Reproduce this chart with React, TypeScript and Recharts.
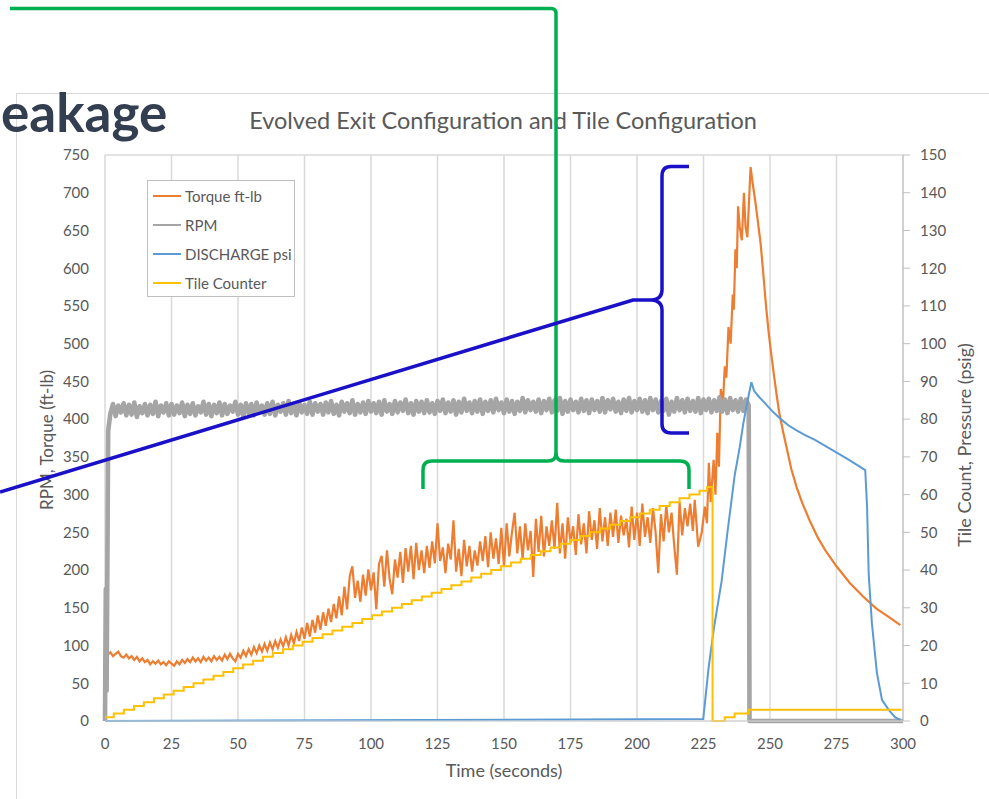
import React from 'react';
import { LineChart, Line, XAxis, YAxis, CartesianGrid, Legend } from 'recharts';

const FONT = 'Lato, "Open Sans", sans-serif';
const TEXT = '#595959';
const GRID = '#d9d9d9';

// axis ticks
const timeTicks = [0, 25, 50, 75, 100, 125, 150, 175, 200, 225, 250, 275, 300];
const leftTicks = [0, 50, 100, 150, 200, 250, 300, 350, 400, 450, 500, 550, 600, 650, 700, 750];
const rightTicks = [0, 10, 20, 30, 40, 50, 60, 70, 80, 90, 100, 110, 120, 130, 140, 150];

const seriesNames = ['Torque ft-lb', 'RPM', 'DISCHARGE psi', 'Tile Counter'];
const seriesColors = ['#ED7D31', '#A5A5A5', '#5B9BD5', '#FFC000'];

// torque, one sample per second from t = 0 to 219
const torqueEarly = [
  65, 88, 91, 86, 89, 92, 86, 84, 88, 83,
  86, 81, 85, 79, 83, 78, 81, 75, 79, 76,
  80, 75, 78, 74, 79, 76, 73, 79, 75, 81,
  77, 82, 78, 84, 79, 83, 78, 85, 80, 84,
  79, 86, 81, 85, 80, 88, 82, 89, 83, 79,
  89, 84, 93, 86, 95, 88, 98, 90, 100, 92,
  102, 93, 104, 95, 106, 97, 108, 99, 111, 100,
  114, 103, 118, 106, 124, 109, 130, 112, 134, 117,
  140, 121, 144, 126, 149, 131, 155, 136, 165, 140,
  178, 148, 192, 205, 163, 186, 158, 194, 166, 201,
  173, 197, 148, 208, 219, 178, 226, 188, 168, 214,
  190, 224, 183, 229, 198, 232, 188, 236, 200, 226,
  196, 232, 203, 238, 209, 262, 212, 230, 196, 235,
  214, 266, 198, 228, 192, 240, 205, 232, 198, 226,
  206, 238, 212, 245, 204, 250, 215, 242, 208, 256,
  204, 262, 218, 250, 276, 222, 258, 214, 262, 226,
  252, 191, 268, 224, 272, 218, 258, 232, 266, 228,
  289, 222, 262, 215, 270, 236, 258, 220, 274, 234,
  262, 222, 278, 240, 266, 228, 282, 238, 270, 232,
  276, 244, 280, 236, 272, 246, 268, 230, 284, 240,
  276, 232, 288, 244, 270, 236, 282, 250, 196, 274,
  238, 286, 250, 276, 232, 194, 290, 246, 282, 258,
];

// torque surge, peak and decay [time s, ft-lb]
const torqueLate: [number, number][] = [
  [220, 288], [221, 252], [221.7, 293], [223, 231], [224.3, 249], [225.5, 284],
  [226.3, 262], [227, 342], [227.7, 290], [228.8, 346], [229.5, 300], [230.2, 382],
  [230.8, 337], [231.5, 440], [232.3, 420], [233, 470], [233.6, 455], [234.4, 522],
  [235.2, 500], [236, 565], [236.4, 545], [237, 625], [237.5, 600], [238, 682],
  [238.6, 655], [239.4, 637], [240.2, 700], [240.8, 655], [241.5, 641], [242.7, 734],
  [243.5, 712], [244.5, 688], [245.5, 660], [246.5, 632], [247.5, 592], [248.5, 550],
  [249.5, 515], [250.5, 485], [251.5, 458], [252.5, 432], [253.5, 408], [255, 382],
  [256.5, 358], [258, 334], [260, 310], [262, 290], [265, 265], [268, 243],
  [271, 225], [275, 205], [280, 183], [285, 165], [290, 149], [295, 137], [299, 127],
];

// RPM spin-up [time s, rpm]
const rpmStart: [number, number][] = [[0, 0], [0.3, 175], [0.6, 40], [1.2, 385]];
// RPM, one sample per second from t = 2 to 241
const rpmBand = [
  407, 420, 404, 418, 409, 421, 405, 419, 406, 422, 403, 417, 408, 420, 405, 419, 407, 423, 404, 418,
  409, 421, 405, 420, 406, 418, 408, 422, 404, 419, 407, 421, 405, 417, 409, 423, 406, 420, 404, 419,
  408, 422, 405, 420, 407, 418, 410, 423, 406, 419, 404, 421, 408, 420, 405, 422, 409, 418, 406, 421,
  407, 423, 405, 419, 410, 421, 406, 424, 408, 420, 405, 422, 409, 419, 407, 423, 406, 421, 410, 420,
  406, 422, 409, 424, 407, 419, 405, 423, 410, 421, 408, 425, 406, 420, 409, 422, 407, 424, 410, 421,
  408, 423, 406, 425, 410, 420, 407, 424, 409, 422, 411, 426, 408, 421, 406, 424, 410, 423, 408, 425,
  409, 421, 407, 424, 411, 426, 408, 422, 410, 425, 406, 423, 409, 427, 411, 422, 408, 424, 410, 426,
  407, 423, 411, 425, 409, 427, 412, 422, 408, 426, 410, 424, 407, 423, 411, 428, 409, 425, 412, 423,
  410, 426, 408, 424, 412, 427, 409, 425, 411, 428, 407, 424, 410, 426, 412, 423, 409, 427, 411, 425,
  408, 426, 412, 424, 410, 428, 409, 425, 413, 427, 410, 423, 408, 426, 411, 428, 409, 424, 412, 427,
  410, 425, 408, 428, 412, 426, 409, 424, 411, 427, 406, 423, 410, 428, 412, 425, 409, 427, 411, 424,
  410, 428, 408, 426, 412, 427, 409, 425, 411, 429, 410, 426, 408, 428, 412, 425, 410, 427, 411, 426,
];
const rpmEnd: [number, number][] = [[242, 418], [242.3, 0], [300, 0]];

// discharge pressure [time s, psi]
const discharge: [number, number][] = [
  [0, 0], [224.9, 0.5], [226.9, 14], [229, 25], [231.8, 37], [234, 50], [236.7, 65],
  [238.6, 72.5], [240, 79], [241.9, 86], [243, 89.8], [244, 87.5], [246, 85.8], [248, 84.3],
  [251, 82], [254.4, 79.8], [257, 78.3], [260, 77], [263, 75.8], [266.9, 74.5], [273, 72],
  [279.7, 69.2], [285.8, 66.5], [286.5, 56.7], [287.1, 39], [288.3, 26], [290.2, 12.7],
  [292.1, 5.6], [294.7, 2.9], [297, 1], [299, 0.3],
];

// time at which the tile counter reaches 1, 2, 3 ... 62
const tileStepTimes = [
  0, 3.3, 7.1, 10.9, 14.6, 18.4, 22.1, 25.8, 29.6, 33.3,
  37.0, 40.8, 44.5, 48.2, 51.9, 55.7, 59.4, 63.1, 66.9, 70.6,
  74.3, 78.0, 81.8, 85.5, 89.2, 93.0, 96.7, 100.4, 104.1, 107.9,
  111.6, 115.3, 119.1, 122.8, 126.5, 130.2, 134.0, 137.7, 141.4, 145.2,
  148.9, 152.6, 156.3, 160.1, 163.8, 167.5, 171.3, 175.0, 178.7, 182.4,
  186.2, 189.9, 193.6, 197.4, 201.1, 204.8, 208.5, 212.3, 216.0, 219.7,
  223.5, 226.4,
];
// counter reset and restart [time s, count]
const tileReset: [number, number][] = [[228.4, 0], [233, 1], [236.7, 2], [242, 3], [299.5, 3]];

const torqueData = [
  ...torqueEarly.map((v, i) => ({ t: i, v })),
  ...torqueLate.map(([t, v]) => ({ t, v })),
];
const rpmData = [
  ...rpmStart.map(([t, v]) => ({ t, v })),
  ...rpmBand.map((v, i) => ({ t: i + 2, v })),
  ...rpmEnd.map(([t, v]) => ({ t, v })),
];
const dischargeData = discharge.map(([t, v]) => ({ t, v }));
const tileData = [
  ...tileStepTimes.map((t, i) => ({ t, v: i + 1 })),
  ...tileReset.map(([t, v]) => ({ t, v })),
];

const LegendBox = () => (
  <div
    style={{
      width: 148,
      height: 117,
      boxSizing: 'border-box',
      border: '1px solid #bfbfbf',
      background: '#fff',
      paddingLeft: 5,
      fontFamily: FONT,
      fontSize: 15,
      color: TEXT,
    }}
  >
    {seriesNames.map((name, i) => (
      <div key={name} style={{ display: 'flex', alignItems: 'center', height: 29 }}>
        <svg width={30} height={4}>
          <line x1={0} y1={2} x2={28} y2={2} stroke={seriesColors[i]} strokeWidth={2} />
        </svg>
        <span style={{ marginLeft: 2 }}>{name}</span>
      </div>
    ))}
  </div>
);

const tickStyle = { fill: TEXT, fontSize: 15, fontFamily: FONT };

export default function App() {
  return (
    <div style={{ position: 'absolute', left: 0, top: 0, width: 989, height: 799, background: '#fff', overflow: 'hidden' }}>
      <svg width={989} height={799} style={{ position: 'absolute', left: 0, top: 0 }}>
        <rect x={16.5} y={93.5} width={1000} height={1000} fill="#fff" stroke={GRID} />
      </svg>
      <div style={{ position: 'absolute', left: 0, top: 0 }}>
        <LineChart width={989} height={799} margin={{ top: 155, right: 26, bottom: 48, left: 45 }}>
          <CartesianGrid stroke={GRID} strokeWidth={1.5} />
          <XAxis
            type="number"
            dataKey="t"
            domain={[0, 300]}
            ticks={timeTicks}
            height={30}
            tickLine={false}
            tickSize={6}
            tickMargin={11}
            axisLine={{ stroke: GRID }}
            tick={tickStyle}
            allowDuplicatedCategory={false}
          />
          <YAxis
            yAxisId="left"
            domain={[0, 750]}
            ticks={leftTicks}
            width={60}
            axisLine={false}
            tickLine={false}
            tickSize={6}
            tickMargin={10}
            tick={tickStyle}
          />
          <YAxis
            yAxisId="right"
            orientation="right"
            domain={[0, 150]}
            ticks={rightTicks}
            width={60}
            axisLine={{ stroke: '#bfbfbf' }}
            tickLine={{ stroke: '#bfbfbf' }}
            tickSize={7}
            tickMargin={10}
            tick={tickStyle}
          />
          <Line data={torqueData} dataKey="v" name={seriesNames[0]} yAxisId="left" type="linear" stroke={seriesColors[0]} strokeWidth={2.2} dot={false} isAnimationActive={false} />
          <Line data={rpmData} dataKey="v" name={seriesNames[1]} yAxisId="left" type="linear" stroke={seriesColors[1]} strokeWidth={4.6} strokeLinejoin="round" dot={false} isAnimationActive={false} />
          <Line data={dischargeData} dataKey="v" name={seriesNames[2]} yAxisId="right" type="linear" stroke={seriesColors[2]} strokeWidth={2} dot={false} isAnimationActive={false} />
          <Line data={tileData} dataKey="v" name={seriesNames[3]} yAxisId="right" type="stepAfter" stroke={seriesColors[3]} strokeWidth={2} dot={false} isAnimationActive={false} />
          <Legend
            layout="vertical"
            align="center"
            verticalAlign="middle"
            content={<LegendBox />}
            wrapperStyle={{ left: 147, top: 180, width: 148, height: 117 }}
          />
        </LineChart>
      </div>
      <svg width={989} height={799} style={{ position: 'absolute', left: 0, top: 0, pointerEvents: 'none' }}>
        <text x={503} y={129} textAnchor="middle" fill={TEXT} fontSize={23.5} fontFamily={FONT}>
          Evolved Exit Configuration and Tile Configuration
        </text>
        <text x={504} y={777} textAnchor="middle" fill={TEXT} fontSize={18} fontFamily={FONT}>
          Time (seconds)
        </text>
        <text transform="translate(53 440) rotate(-90)" textAnchor="middle" fill={TEXT} fontSize={17} fontFamily={FONT}>
          RPM, Torque (ft-lb)
        </text>
        <text transform="translate(971 445) rotate(-90)" textAnchor="middle" fill={TEXT} fontSize={18} fontFamily={FONT}>
          Tile Count, Pressure (psig)
        </text>
        <text x={1} y={132} fill="#333F50" fontSize={53} fontWeight={700} fontFamily={FONT}>
          eakage
        </text>
        <g fill="none" stroke="#00B050" strokeWidth={3.5} strokeLinecap="butt">
          <path d="M10 8.5 H551 Q556 8.5 556 13.5 V453 Q556 461 548 461 H432 Q423 461 423 470 V489" />
          <path d="M556 453 Q556 461 564 461 H680 Q689 461 689 470 V489" />
        </g>
        <g fill="none" stroke="#1A10C8" strokeWidth={3.5}>
          <path d="M0 492 L633 300 H652" />
          <path d="M689 166.5 H671 Q662 166.5 662 176 V290 Q662 299 652 300 Q662 301 662 310 V424 Q662 433 671 433 H689" />
        </g>
      </svg>
    </div>
  );
}
